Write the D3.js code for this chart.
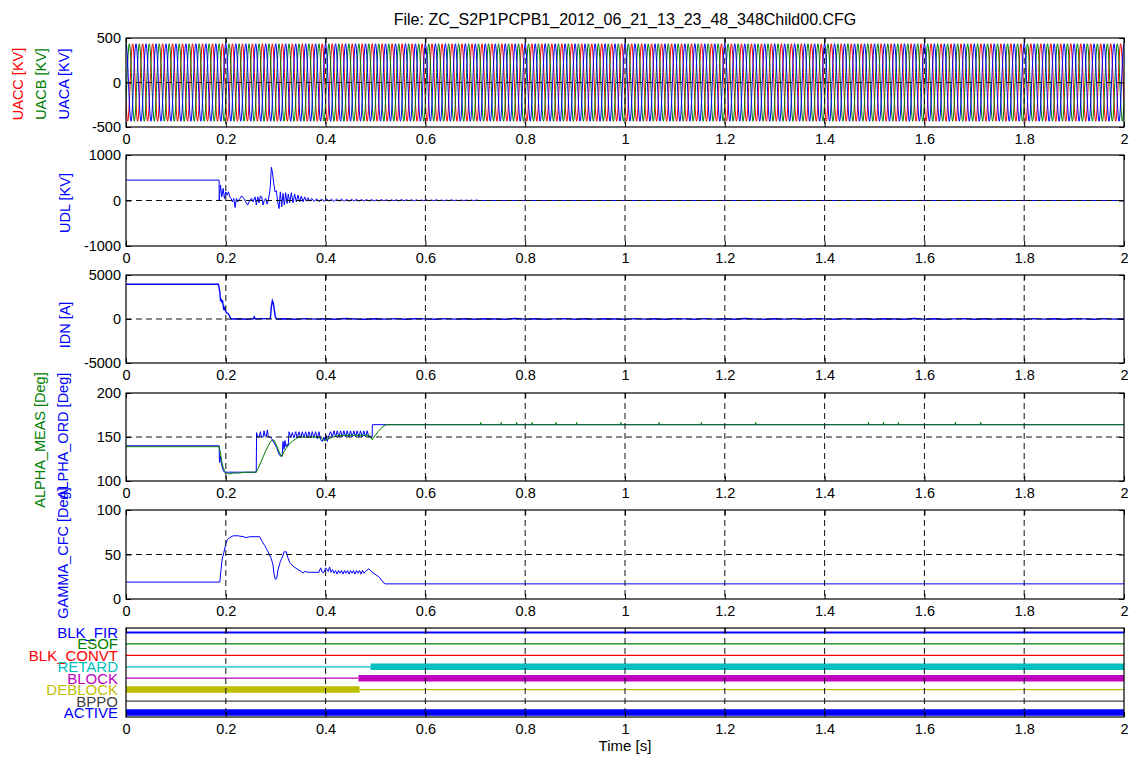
<!DOCTYPE html>
<html>
<head>
<meta charset="utf-8">
<title>ZC_S2P1PCPB1 Child00</title>
<script src="https://d3js.org/d3.v7.min.js"></script>
<style>
body { margin: 0; background: #fff; }
svg text { font-family: "Liberation Sans", Arial, Helvetica, sans-serif; }
</style>
</head>
<body>
<svg id="chart" width="1130" height="758"></svg>
<script>
// ---- data ----
const timeTicks = [0, 0.2, 0.4, 0.6, 0.8, 1, 1.2, 1.4, 1.6, 1.8, 2];
const uacTicks = [-500, 0, 500];
const udlTicks = [-1000, 0, 1000];
const idnTicks = [-5000, 0, 5000];
const alphaTicks = [100, 150, 200];
const gammaTicks = [0, 50, 100];

// one 50 Hz period of each phase voltage [kV], 24 samples per period
const samplePeriod = 0.02 / 24;
const uacaCycle = [435, 420, 377, 308, 218, 113, 0, -113, -218, -308, -377, -420, -435, -420, -377, -308, -218, -113, 0, 113, 218, 308, 377, 420];
const uacbCycle = [-218, -113, 0, 113, 218, 308, 377, 420, 435, 420, 377, 308, 218, 113, 0, -113, -218, -308, -377, -420, -435, -420, -377, -308];
const uaccCycle = [-218, -308, -377, -420, -435, -420, -377, -308, -218, -113, 0, 113, 218, 308, 377, 420, 435, 420, 377, 308, 218, 113, 0, -113];

// UDL [kV] : [t, value]
const udl = [[0,448],[0.1866,448],[0.1868,0],[0.1893,340],[0.1920,80],[0.1947,265],[0.1973,44],[0.2000,190],[0.2027,118],
  [0.2053,190],[0.2080,80],[0.2107,44],[0.2133,-30],[0.2160,44],[0.2187,-155],[0.2213,44],[0.2240,-30],[0.2280,44],
  [0.2320,100],[0.2360,44],[0.2400,-30],[0.2440,-100],[0.2480,7],[0.2520,44],[0.2547,-30],[0.2587,80],[0.2613,-100],
  [0.2640,80],[0.2667,-50],[0.2693,100],[0.2720,80],[0.2747,-100],[0.2773,7],[0.2800,44],[0.2827,-80],[0.2853,7],
  [0.2880,190],[0.2893,340],[0.2913,730],[0.2933,630],[0.2960,375],[0.2987,190],[0.3013,213],[0.3040,-30],[0.3067,-177],
  [0.3093,190],[0.3120,-140],[0.3147,155],[0.3173,-100],[0.3200,170],[0.3227,-66],[0.3253,140],[0.3280,-50],[0.3313,170],
  [0.3347,-50],[0.3380,140],[0.3413,-30],[0.3447,118],[0.3480,-30],[0.3513,96],[0.3547,-30],[0.3580,80],[0.3613,-15],
  [0.3647,60],[0.3680,-15]];
// small ripple after the transient, one value every 5 ms from 0.372 s
const udlRippleStart = 0.372;
const udlRipple = [45,-20,40,-25,35,-20,35,-15,30,-20,30,-15,30,-15,25,-15,25,-10,25,-15,20,-10,20,-10,20,-10,15,-10,
  20,-5,15,-10,15,-5,15,-10,20,-5,15,-5,15,-10,15,-5,10,-5,15,-5,10,-5,15,-5,10,-5,10,-5,15,-5,10,-5,10,-5,10,-5,10,-5,10,0];
const udlEnd = [[0.709,0],[2,0]];

// IDN [A]
const idn = [[0,3950],[0.1853,3950],[0.1880,3090],[0.1893,2150],[0.1907,2220],[0.1920,1850],[0.1933,2150],[0.1947,1580],
  [0.1960,1020],[0.1973,1400],[0.1987,1020],[0.2013,716],[0.2040,640],[0.2067,450],[0.2093,75],[0.2113,0],[0.23,30],
  [0.24,-20],[0.255,20],[0.257,250],[0.259,0],[0.27,30],[0.2893,75],[0.2913,1400],[0.2933,2070],[0.2953,1770],
  [0.2973,1020],[0.2993,260],[0.3013,0]];
// low-level noise after the transient, one value every 20 ms from 0.32 s
const idnTailStart = 0.32;
const idnTail = [30,-20,40,-10,20,-30,50,0,-20,30,-10,40,-30,20,10,-20,40,-10,30,-30,20,0,-20,50,-10,30,-20,10,40,-30,
  20,-10,30,0,-20,40,-10,20,-30,30,10,-20,40,-10,20,-30,50,0,-20,30,-10,40,-30,20,10,-20,40,-10,30,-30,20,0,-20,50,-10,
  30,-20,10,40,-30,20,-10,30,0,-20,40,-10,20,-30,30,10,-20,40,-10,20];

// ALPHA_ORD [deg]
const alphaOrd = [[0,140],[0.1867,140],[0.1873,121],[0.1893,128],[0.1913,119],[0.194,113],[0.197,110],[0.261,110],
  [0.2617,155],[0.264,150],[0.267,150],[0.2693,156],[0.2713,150],[0.2747,150],[0.2767,157],[0.2787,151],[0.2813,151],
  [0.2833,158],[0.2853,150],[0.2893,150],[0.292,148],[0.297,143],[0.302,138],[0.3067,130],[0.311,128],[0.313,130],
  [0.3147,145],[0.3167,136],[0.3187,146],[0.3207,139],[0.3233,142],[0.325,140],[0.3267,156],[0.33,150],[0.3333,155],
  [0.3367,149],[0.34,156],[0.3433,149],[0.3467,156],[0.35,149],[0.3533,156],[0.3567,149],[0.36,156],[0.3633,149],
  [0.3667,156],[0.37,149],[0.3733,156],[0.3767,149],[0.38,156],[0.3833,148],[0.3867,156],[0.39,147],[0.3933,145],
  [0.3967,150],[0.3987,146],[0.4013,152],[0.4033,145],[0.4067,152],[0.41,156],[0.4133,150],[0.4167,157],[0.42,150],
  [0.4233,157],[0.4267,150],[0.43,157],[0.4333,150],[0.4367,157],[0.44,150],[0.4433,157],[0.4467,150],[0.45,157],
  [0.4533,150],[0.4567,157],[0.46,150],[0.4633,157],[0.4667,150],[0.47,157],[0.4733,150],[0.4767,157],[0.48,150],
  [0.4833,157],[0.4867,150],[0.4933,150],[0.4937,164],[2,164]];

// ALPHA_MEAS [deg]
const alphaMeas = [[0,139],[0.1867,139],[0.189,133],[0.192,122],[0.195,115],[0.198,111],[0.2,110],[0.205,108],
  [0.215,109],[0.225,109],[0.24,110],[0.261,110],[0.267,117],[0.273,125],[0.279,133],[0.285,140],[0.29,145],
  [0.293,147],[0.297,146],[0.302,140],[0.307,133],[0.311,128],[0.313,128],[0.316,133],[0.321,137],[0.327,142],
  [0.333,145],[0.34,148],[0.347,150],[0.38,150],[0.39,149],[0.397,146],[0.403,147],[0.41,149],[0.42,151],[0.44,152],
  [0.488,152],[0.4933,147],[0.497,150],[0.505,156],[0.513,161],[0.521,164],[2,164]];
// short measurement spikes on the 164 deg plateau
const alphaMeasBlips = [0.711, 0.752, 0.783, 0.814, 0.862, 0.903, 0.992, 1.068, 1.153, 1.262, 1.488, 1.518, 1.548, 1.662, 1.713];

// GAMMA_CFC [deg]
const gamma = [[0,19],[0.188,19],[0.19,30],[0.1927,45],[0.196,52],[0.2,62],[0.2033,67],[0.208,69],[0.2147,71],
  [0.2247,71],[0.2347,70],[0.2413,69],[0.248,70],[0.268,70],[0.2713,66],[0.278,60],[0.2847,53],[0.2913,45],[0.2947,38],
  [0.2967,28],[0.2993,22],[0.302,23],[0.3047,33],[0.3093,42],[0.3147,49],[0.3167,53],[0.3213,53],[0.324,47],[0.328,41],
  [0.3347,37],[0.3447,33],[0.3513,31],[0.3547,29],[0.358,31],[0.365,30],[0.3867,30],[0.39,35],[0.3933,30],[0.397,30],
  [0.4,35],[0.4053,31],[0.408,36],[0.411,30],[0.414,33],[0.417,29],[0.42,32],[0.423,28],[0.426,32],[0.429,29],[0.432,32],
  [0.435,28],[0.438,32],[0.441,29],[0.444,32],[0.447,28],[0.45,32],[0.453,29],[0.456,32],[0.459,28],[0.462,32],
  [0.465,29],[0.468,32],[0.471,28],[0.474,32],[0.477,29],[0.48,31],[0.4867,34],[0.4933,30],[0.5067,25],[0.5167,18],
  [0.52,17],[2,17]];

// binary signals, top to bottom: [start, end, state]
const digitalNames = ["BLK_FIR", "ESOF", "BLK_CONVT", "RETARD", "BLOCK", "DEBLOCK", "BPPO", "ACTIVE"];
const digitalStates = [
  [[0, 2, 0]],
  [[0, 2, 0]],
  [[0, 2, 0]],
  [[0, 0.49, 0], [0.49, 2, 1]],
  [[0, 0.466, 0], [0.466, 2, 1]],
  [[0, 0.468, 1], [0.468, 2, 0]],
  [[0, 2, 0]],
  [[0, 2, 1]]
];
const digitalColors = ["#0000ff", "#008000", "#ff0000", "#00bfbf", "#bf00bf", "#bfbf00", "#404040", "#0000ff"];

// ---- build the sampled / stitched series ----
function tile(cycle) {
  const out = [];
  const n = Math.round(2 / samplePeriod);
  for (let i = 0; i <= n; i++) out.push([i * samplePeriod, cycle[i % cycle.length]]);
  return out;
}
const uaca = tile(uacaCycle), uacb = tile(uacbCycle), uacc = tile(uaccCycle);
const udlAll = udl.concat(udlRipple.map((v, i) => [udlRippleStart + i * 0.005, v]), udlEnd);
const idnAll = idn.concat(idnTail.map((v, i) => [idnTailStart + i * 0.02, v]).filter(d => d[0] <= 2));
const alphaMeasAll = [];
alphaMeas.forEach(d => alphaMeasAll.push(d));
alphaMeasBlips.forEach(t => alphaMeasAll.push([t - 0.0008, 164], [t, 166.5], [t + 0.0008, 164]));
alphaMeasAll.sort((a, b) => a[0] - b[0]);

// ---- drawing ----
const svg = d3.select("#chart");
const x = d3.scaleLinear().domain([0, 2]).range([126, 1124]);
const tickFont = "14.5px";

svg.append("text").attr("x", 625).attr("y", 25).attr("text-anchor", "middle")
  .style("font-size", "16px").text("File: ZC_S2P1PCPB1_2012_06_21_13_23_48_348Child00.CFG");

function drawPanel(p, idx) {
  const y = d3.scaleLinear().domain(p.domain).range([p.bottom, p.top]);
  const g = svg.append("g");
  const clipId = "clip" + idx;
  g.append("clipPath").attr("id", clipId).append("rect")
    .attr("x", x(0)).attr("y", p.top).attr("width", x(2) - x(0)).attr("height", p.bottom - p.top);

  const plot = g.append("g").attr("clip-path", "url(#" + clipId + ")");
  const line = d3.line().x(d => x(d[0])).y(d => y(d[1]));
  (p.series || []).forEach(s => {
    plot.append("path").datum(s.data).attr("d", line)
      .attr("fill", "none").attr("stroke", s.color).attr("stroke-width", s.width || 1);
  });
  if (p.digital) p.digital(plot, y);

  // dashed grid drawn over the traces
  const grid = g.append("g").attr("stroke", "#111").attr("stroke-width", 1).attr("stroke-dasharray", "6,4");
  grid.selectAll("line.v").data(timeTicks.slice(1, -1)).join("line")
    .attr("x1", d => x(d)).attr("x2", d => x(d)).attr("y1", p.top).attr("y2", p.bottom);
  grid.selectAll("line.h").data(p.ticks ? p.ticks.slice(1, -1) : []).join("line")
    .attr("y1", d => y(d)).attr("y2", d => y(d)).attr("x1", x(0)).attr("x2", x(2));

  // inward tick marks
  const mk = (axis, tx, ty) => g.append("g").attr("transform", `translate(${tx},${ty})`)
    .call(axis).call(a => a.select(".domain").remove()).call(a => a.selectAll("text").remove());
  mk(d3.axisBottom(x).tickValues(timeTicks).tickSize(-5), 0, p.bottom);
  mk(d3.axisTop(x).tickValues(timeTicks).tickSize(-5), 0, p.top);
  if (p.ticks) {
    mk(d3.axisLeft(y).tickValues(p.ticks).tickSize(-5), x(0), 0);
    mk(d3.axisRight(y).tickValues(p.ticks).tickSize(-5), x(2), 0);
  }

  // box
  g.append("rect").attr("x", x(0)).attr("y", p.top).attr("width", x(2) - x(0)).attr("height", p.bottom - p.top)
    .attr("fill", "none").attr("stroke", "#000").attr("stroke-width", 1.2);

  // tick labels
  const xa = g.append("g").attr("transform", `translate(0,${p.bottom})`)
    .call(d3.axisBottom(x).tickValues(timeTicks).tickSize(0).tickPadding(7).tickFormat(d => String(d)));
  xa.select(".domain").remove();
  xa.selectAll("text").style("font-size", tickFont).attr("fill", "#000");
  if (p.ticks) {
    const ya = g.append("g").attr("transform", `translate(${x(0)},0)`)
      .call(d3.axisLeft(y).tickValues(p.ticks).tickSize(0).tickPadding(5).tickFormat(d => String(d)));
    ya.select(".domain").remove();
    ya.selectAll("text").style("font-size", tickFont).attr("fill", "#000");
  }

  // axis titles
  (p.labels || []).forEach(l => {
    svg.append("text").attr("transform", `translate(${l.x},${l.y}) rotate(-90)`)
      .attr("text-anchor", "middle").attr("dominant-baseline", "central")
      .style("font-size", "14.5px").attr("fill", l.color).text(l.text);
  });
}

const panels = [
  { top: 38, bottom: 127, domain: [-500, 500], ticks: uacTicks,
    series: [{ data: uacc, color: "#ff0000" }, { data: uacb, color: "#008000" }, { data: uaca, color: "#0000ff" }],
    labels: [{ text: "UACC [KV]", color: "#ff0000", x: 18, y: 84 },
             { text: "UACB [KV]", color: "#008000", x: 41, y: 84 },
             { text: "UACA [KV]", color: "#0000ff", x: 64, y: 84 }] },
  { top: 155, bottom: 246, domain: [-1000, 1000], ticks: udlTicks,
    series: [{ data: udlAll, color: "#0000ff" }],
    labels: [{ text: "UDL [KV]", color: "#0000ff", x: 65, y: 203 }] },
  { top: 275, bottom: 363, domain: [-5000, 5000], ticks: idnTicks,
    series: [{ data: idnAll, color: "#0000ff", width: 1.4 }],
    labels: [{ text: "IDN [A]", color: "#0000ff", x: 65, y: 325 }] },
  { top: 393, bottom: 481, domain: [100, 200], ticks: alphaTicks,
    series: [{ data: alphaOrd, color: "#0000ff" }, { data: alphaMeasAll, color: "#008000" }],
    labels: [{ text: "ALPHA_MEAS [Deg]", color: "#008000", x: 40, y: 440 },
             { text: "ALPHA_ORD [Deg]", color: "#0000ff", x: 63, y: 436 }] },
  { top: 510, bottom: 599, domain: [0, 100], ticks: gammaTicks,
    series: [{ data: gamma, color: "#0000ff" }],
    labels: [{ text: "GAMMA_CFC [Deg]", color: "#0000ff", x: 63, y: 553 }] },
  { top: 628, bottom: 717, domain: [0.6, 8.4], ticks: null,
    digital: (plot, y) => {
      digitalNames.forEach((name, i) => {
        const row = digitalNames.length - i;
        const c = digitalColors[i];
        plot.selectAll(null).data(digitalStates[i]).join("line")
          .attr("x1", d => x(d[0])).attr("x2", d => x(d[1]))
          .attr("y1", y(row)).attr("y2", y(row))
          .attr("stroke", c).attr("stroke-width", d => d[2] ? 6.5 : (i === 0 ? 2 : 1.3));
        svg.append("text").attr("x", 118).attr("y", y(row)).attr("text-anchor", "end")
          .attr("dominant-baseline", "central").style("font-size", "15px").attr("fill", c).text(name);
      });
    } }
];
panels.forEach(drawPanel);

svg.append("text").attr("x", 625).attr("y", 751).attr("text-anchor", "middle")
  .style("font-size", "15px").text("Time [s]");
</script>
</body>
</html>
